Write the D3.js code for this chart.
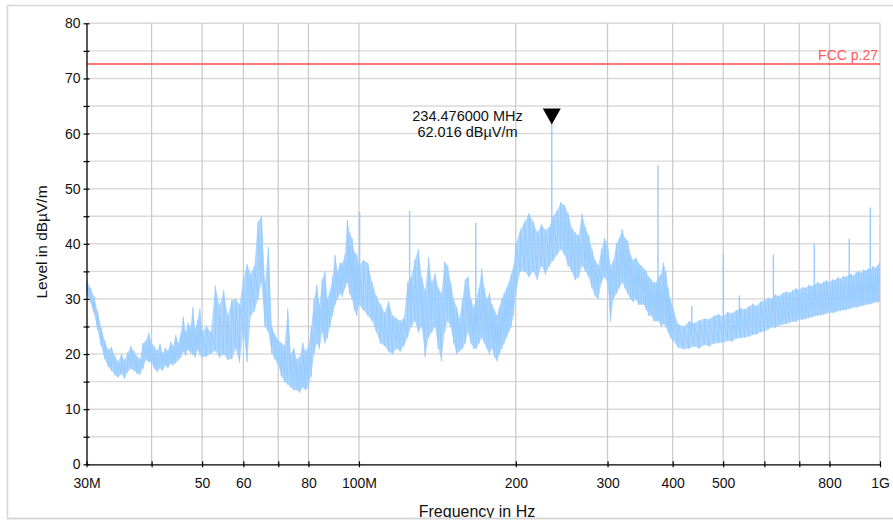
<!DOCTYPE html>
<html><head><meta charset="utf-8">
<script src="https://cdn.jsdelivr.net/npm/d3@7"></script>
<style>
html,body{margin:0;padding:0;background:#fff;}
svg{display:block;font-family:"Liberation Sans",Arial,Helvetica,sans-serif;}
</style>
</head><body>
<svg id="chart" width="893" height="521"></svg>
<script>
// Sweep columns (MHz) with the lowest and highest level seen in each column (dBµV/m)
const freqMHz = [
  30,30.5,31,31.5,32,32.5,33,33.5,34,34.5,35,35.5,36,36.5,37,37.5,38,38.5,39,39.5,40,
  40.5,41,41.5,42,42.5,43,43.5,44,44.5,45,45.5,46,46.5,47,47.5,48,48.5,49,49.5,50,
  51,52,53,54,55,56,57,58,59,60,61,62,63,64,65,66,67,68,69,70,
  71,72,73,74,75,76,77,78,79,80,81,82,83,84,85,86,87,88,89,90,
  91,92,93,94,95,96,97,98,99,100,
  102,104,106,108,110,112,114,116,118,120,122,124,126,128,130,132,134,136,138,140,
  142,144,146,148,150,152,154,156,158,160,162,164,166,168,170,172,174,176,178,180,
  182,184,186,188,190,192,194,196,198,200,
  204,208,212,216,220,224,228,232,236,240,244,248,252,256,260,264,268,272,276,280,
  284,288,292,296,300,304,308,312,316,320,324,328,332,336,340,344,348,352,356,360,
  364,368,372,376,380,384,388,392,396,400,
  410,420,430,440,450,460,470,480,490,500,510,520,530,540,550,560,570,580,590,600,
  610,620,630,640,650,660,670,680,690,700,710,720,730,740,750,760,770,780,790,800,
  810,820,830,840,850,860,870,880,890,900,910,920,930,940,950,960,970,980,990,1000
];
const levelLow = [
  31.0,29.5,27.5,24.5,21.5,19.2,17.8,17.0,16.2,15.8,16.4,15.6,16.8,17.4,17.0,16.5,16.3,17.4,18.9,18.6,18.4,
  17.4,16.8,17.4,17.0,17.9,17.5,18.2,18.0,18.4,18.9,19.4,20.4,19.8,20.8,20.3,19.9,19.4,20.8,19.9,19.4,
  19.6,20.1,20.6,19.4,20.0,19.0,19.1,21.0,18.5,23.8,18.6,27.0,27.8,30.0,33.0,25.0,24.0,20.2,19.0,18.0,
  16.0,15.0,14.5,14.0,13.5,13.5,13.0,14.0,13.5,14.0,16.0,20.0,22.0,21.0,24.0,22.0,23.0,25.0,27.0,29.0,
  30.0,31.0,30.5,32.0,33.0,31.0,30.0,28.0,27.0,29.0,
  28.0,27.0,26.0,24.0,22.0,21.5,20.5,20.0,21.0,20.5,21.5,23.0,25.0,26.0,24.0,25.0,19.5,23.0,24.0,25.0,
  21.0,18.8,24.0,26.0,25.0,22.0,20.0,20.5,21.0,22.0,24.0,22.0,21.0,21.0,22.0,23.0,22.0,21.0,20.0,21.0,
  19.5,18.8,20.0,21.0,22.0,23.0,24.0,25.0,27.0,31.0,
  35.0,35.0,34.0,35.0,33.5,36.0,34.5,36.0,37.0,38.0,39.0,38.0,36.0,35.0,33.5,34.0,36.0,35.0,34.0,32.0,
  30.5,30.0,33.0,34.0,33.0,26.0,30.0,31.0,32.0,33.0,32.0,31.0,30.0,29.5,30.0,29.0,29.0,29.0,28.0,27.0,
  27.0,26.0,26.0,26.0,25.0,25.5,25.0,24.0,23.0,22.5,
  21.2,20.9,21.0,21.4,21.0,21.7,21.4,21.9,22.0,22.1,22.4,22.3,22.8,22.9,23.0,23.2,23.5,23.6,24.0,24.1,
  24.5,24.9,24.8,25.2,25.4,25.5,25.7,25.9,25.9,26.3,26.2,26.4,26.6,26.7,26.9,27.0,27.1,27.2,27.4,27.5,
  27.5,27.6,27.8,27.9,28.0,28.0,28.2,28.3,28.5,28.5,28.6,28.8,28.8,29.0,29.1,29.1,29.3,29.4,29.4,29.6
];
const levelHigh = [
  33.5,32.0,30.5,27.8,24.8,22.5,20.8,21.2,19.6,18.6,19.9,18.9,20.3,21.4,20.5,19.6,19.1,21.9,22.4,23.8,22.0,
  21.3,20.6,21.8,20.1,21.1,20.6,22.2,21.4,23.4,22.0,23.7,26.7,24.0,25.6,25.0,28.5,24.6,26.1,28.2,24.1,
  25.0,24.0,32.4,28.8,31.5,27.0,29.7,30.0,29.0,33.6,36.3,34.5,36.0,44.0,45.0,33.0,39.3,25.0,23.5,22.5,
  22.0,21.5,28.2,20.0,21.0,19.0,19.5,22.0,20.5,21.5,25.0,30.0,32.5,29.0,33.5,35.0,30.0,31.5,34.0,37.9,
  35.0,36.5,36.5,38.0,44.3,42.0,41.0,38.5,38.0,36.0,
  37.0,36.5,33.0,30.5,29.0,27.5,29.5,27.0,26.5,26.0,26.5,33.0,34.0,37.0,39.0,34.0,31.5,37.4,33.0,34.5,
  32.0,31.0,36.7,36.0,33.0,30.0,28.5,26.5,30.0,33.5,34.0,30.0,28.5,30.0,32.0,35.5,32.0,30.0,31.0,29.0,
  28.0,27.0,28.5,30.0,31.0,32.0,33.0,34.5,36.0,40.0,
  42.5,44.0,45.5,44.0,42.0,43.5,42.5,43.0,45.0,46.0,47.5,47.0,45.5,43.0,42.0,41.5,45.4,43.0,41.5,39.0,
  37.0,36.0,39.0,41.0,40.0,36.0,37.0,40.0,41.0,42.6,41.0,40.5,38.0,37.0,37.5,36.5,36.0,35.5,35.0,34.0,
  33.5,33.0,33.0,34.0,34.5,36.5,35.0,32.0,30.0,28.5,
  25.4,25.0,25.9,25.6,26.1,26.4,26.3,26.9,27.2,26.8,27.6,27.4,27.9,28.3,28.1,28.6,29.1,28.7,29.5,29.7,
  30.2,30.0,30.8,30.5,31.0,31.3,31.1,31.5,31.9,31.6,32.1,32.0,32.5,32.3,32.6,33.0,32.7,33.1,33.3,33.0,
  33.5,33.4,33.9,33.6,34.1,34.0,34.3,34.5,34.2,34.8,35.0,34.7,35.3,35.1,35.5,35.4,35.9,35.6,36.1,36.7
];

// Narrowband emissions standing above the noise floor
const spikeFreqMHz = [100.3, 125.1, 167.6, 234.476, 374.8, 435.4, 500.6, 537.3, 624.4, 747.9, 873.0, 957.8];
const spikePeak    = [45.8, 46.0, 43.8, 62.016, 54.3, 28.7, 38.1, 30.6, 38.1, 40.0, 40.9, 46.6];
const spikeBase    = [30.0, 28.0, 25.0, 40.0, 30.0, 24.0, 26.0, 26.0, 28.0, 30.0, 31.0, 32.0];

// Limit line and marker
const limitLevel = 72.6;
const limitName = "FCC p.27";
const markerFreqMHz = 234.476;
const markerLevel = 62.016;
const markerLines = ["234.476000 MHz", "62.016 dBµV/m"];

// Axes
const yTicks = [0,5,10,15,20,25,30,35,40,45,50,55,60,65,70,75,80];
const xTickFreqs  = [30,40,50,60,70,80,100,200,300,400,500,600,700,800,1000];
const xTickLabels = ["30M","","50","60","","80","100M","200","300","400","500","","","800","1G"];
const xTitle = "Frequency in Hz";
const yTitle = "Level in dBµV/m";

const traceColor = "#99ccff";
const svg = d3.select("#chart");

// outer frame
svg.append("rect").attr("x",7.5).attr("y",5.5).attr("width",900).attr("height",513)
  .attr("fill","#fff").attr("stroke","#d6d6d6").attr("stroke-width",1.5);

const x = d3.scaleLog().domain([30,1000]).range([86.5,880]);
const y = d3.scaleLinear().domain([0,80]).range([464.3,23.3]);
const [x0,x1] = x.range();

// grid
const grid = svg.append("g");
grid.selectAll("line.h").data(yTicks.filter(d=>d>0)).join("line")
  .attr("x1",x0).attr("x2",x1).attr("y1",d=>y(d)).attr("y2",d=>y(d))
  .attr("stroke","#dadada").attr("stroke-width",1.4);
grid.selectAll("line.v").data(xTickFreqs.filter(d=>d>30)).join("line")
  .attr("x1",d=>x(d)).attr("x2",d=>x(d)).attr("y1",y(0)).attr("y2",y(80))
  .attr("stroke","#c9c9c9").attr("stroke-width",1.2);

// clip for the trace
svg.append("clipPath").attr("id","plot").append("rect")
  .attr("x",x0).attr("y",y(80)).attr("width",x1-x0).attr("height",y(0)-y(80));

const plot = svg.append("g").attr("clip-path","url(#plot)");

// limit line
plot.append("line").attr("x1",x0).attr("x2",x1).attr("y1",y(limitLevel)).attr("y2",y(limitLevel))
  .attr("stroke","#ff4a4a").attr("stroke-width",1.5);

// trace: band between low and high levels, then a min/max zigzag over it
const cols = freqMHz.map((f,i)=>({f, lo: levelLow[i], hi: levelHigh[i]}));
plot.append("path").datum(cols)
  .attr("d", d3.area().x(d=>x(d.f)).y0(d=>y(d.lo)).y1(d=>y(d.hi)))
  .attr("fill",traceColor).attr("fill-opacity",0.78);
const zig = [];
cols.forEach(c=>{ zig.push([c.f,c.lo]); zig.push([c.f,c.hi]); });
plot.append("path").datum(zig)
  .attr("d", d3.line().x(d=>x(d[0])).y(d=>y(d[1])))
  .attr("fill","none").attr("stroke",traceColor).attr("stroke-width",1.1).attr("stroke-linejoin","round");

plot.selectAll("line.spike").data(spikeFreqMHz).join("line")
  .attr("x1",d=>x(d)).attr("x2",d=>x(d))
  .attr("y1",(d,i)=>y(spikeBase[i])).attr("y2",(d,i)=>y(spikePeak[i]))
  .attr("stroke",traceColor).attr("stroke-width",1.4);

// axes
const yAxis = svg.append("g").attr("transform",`translate(${x0},0)`)
  .call(d3.axisLeft(y).tickValues(yTicks).tickSize(3).tickSizeOuter(0).tickPadding(3)
    .tickFormat(d=> d%10===0 ? d : ""));
yAxis.selectAll(".tick line").attr("x1",3);
const xAxis = svg.append("g").attr("transform",`translate(0,${y(0)})`)
  .call(d3.axisBottom(x).tickValues(xTickFreqs).tickSize(3).tickSizeOuter(0).tickPadding(11)
    .tickFormat((d,i)=>xTickLabels[i]));
xAxis.selectAll(".tick line").attr("y1",-3);
[yAxis,xAxis].forEach(a=>{
  a.select(".domain").attr("stroke","#000").attr("stroke-width",1.3);
  a.selectAll(".tick line").attr("stroke","#000").attr("stroke-width",1.2);
  a.selectAll("text").attr("font-size",14).attr("fill","#111")
    .attr("font-family","'Liberation Sans',Arial,sans-serif");
});

// limit label
svg.append("text").attr("x",x1-2).attr("y",y(limitLevel)-4).attr("text-anchor","end")
  .attr("font-size",14).attr("fill","#ff5a5a").text(limitName);

// marker
const mx = x(markerFreqMHz), my = y(markerLevel)+2;
svg.append("path").attr("d",`M${mx-9},${my-16}L${mx+9},${my-16}L${mx},${my}Z`).attr("fill","#000");
svg.append("text").attr("x",467.5).attr("y",120.5).attr("text-anchor","middle")
  .attr("font-size",14.5).attr("fill","#111")
  .selectAll("tspan").data(markerLines).join("tspan")
  .attr("x",467.5).attr("dy",(d,i)=> i ? 16 : 0).text(d=>d);

// axis titles
svg.append("clipPath").attr("id","frameClip").append("rect").attr("x",0).attr("y",0).attr("width",893).attr("height",518);
svg.append("text").attr("x",477).attr("y",516.5).attr("text-anchor","middle").attr("font-size",16)
  .attr("fill","#111").attr("clip-path","url(#frameClip)").text(xTitle);
svg.append("text").attr("transform","translate(47,242) rotate(-90)").attr("text-anchor","middle")
  .attr("font-size",15.5).attr("fill","#111").text(yTitle);
svg.append("line").attr("x1",7).attr("x2",893).attr("y1",518.5).attr("y2",518.5)
  .attr("stroke","#d6d6d6").attr("stroke-width",1.5);
</script>
</body></html>
